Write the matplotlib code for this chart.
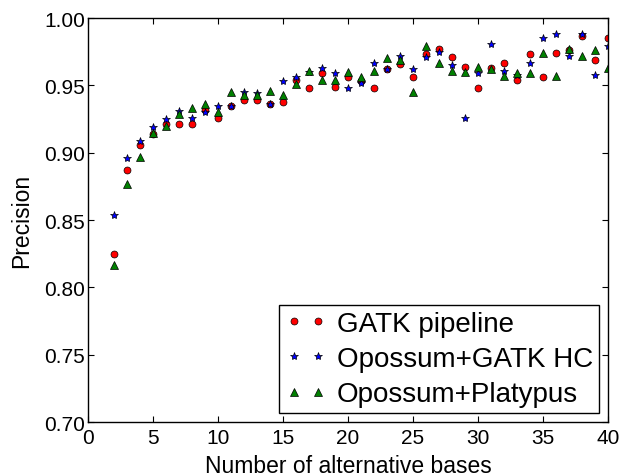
import matplotlib
matplotlib.use("Agg")
import matplotlib.pyplot as plt
import numpy as np

# number of alternative bases
n_alt = np.arange(2, 41)

gatk_pipeline = [0.825, 0.887, 0.906, 0.914, 0.921, 0.921, 0.921, 0.932, 0.926,
                 0.935, 0.939, 0.939, 0.936, 0.938, 0.954, 0.948, 0.959, 0.949,
                 0.956, 0.953, 0.948, 0.962, 0.966, 0.956, 0.973, 0.977, 0.971,
                 0.964, 0.948, 0.963, 0.967, 0.954, 0.973, 0.956, 0.974, 0.976,
                 0.987, 0.969, 0.985]
opossum_gatk_hc = [0.854, 0.896, 0.909, 0.919, 0.925, 0.931, 0.926, 0.930, 0.935,
                   0.935, 0.945, 0.944, 0.936, 0.953, 0.956, 0.960, 0.963, 0.959,
                   0.948, 0.952, 0.967, 0.962, 0.972, 0.962, 0.971, 0.975, 0.965,
                   0.926, 0.959, 0.981, 0.961, 0.958, 0.967, 0.985, 0.988, 0.972,
                   0.988, 0.958, 0.979]
opossum_platypus = [0.817, 0.877, 0.897, 0.915, 0.920, 0.929, 0.933, 0.936, 0.930,
                    0.945, 0.943, 0.943, 0.946, 0.943, 0.951, 0.961, 0.954, 0.954,
                    0.960, 0.956, 0.961, 0.970, 0.969, 0.945, 0.979, 0.967, 0.961,
                    0.960, 0.964, 0.962, 0.957, 0.959, 0.959, 0.974, 0.957, 0.977,
                    0.972, 0.976, 0.963]

plt.rcParams['font.family'] = ['Liberation Sans', 'DejaVu Sans']

fig = plt.figure(figsize=(6.24, 4.77), dpi=100)
ax = fig.add_axes([0.141, 0.113, 0.833, 0.847])

ax.plot(n_alt, gatk_pipeline, ls='none', marker='o', ms=5, color='r',
        mec='k', mew=0.5, label='GATK pipeline')
ax.plot(n_alt, opossum_gatk_hc, ls='none', marker='*', ms=6, color='b',
        mec='k', mew=0.5, label='Opossum+GATK HC')
ax.plot(n_alt, opossum_platypus, ls='none', marker='^', ms=5.5, color='g',
        mec='k', mew=0.5, label='Opossum+Platypus')

ax.set_xlim(0, 40)
ax.set_ylim(0.70, 1.00)
ax.set_xticks(np.arange(0, 41, 5))
ax.set_yticks(np.arange(0.70, 1.001, 0.05))
ax.set_yticklabels(['%.2f' % v for v in np.arange(0.70, 1.001, 0.05)])
ax.tick_params(direction='in', length=4, width=0.8, top=True, right=True,
               labelsize=15, pad=4)
ax.tick_params(axis='y', pad=2)
for s in ax.spines.values():
    s.set_linewidth(1.0)

ax.set_xlabel('Number of alternative bases', fontsize=16.5, labelpad=5)
ax.set_ylabel('Precision', fontsize=16.5, labelpad=8)

leg = ax.legend(loc='lower right', numpoints=2, fontsize=20, fancybox=False,
                framealpha=1, edgecolor='k', borderaxespad=0.31,
                handlelength=1.46, handletextpad=0.39, labelspacing=0.33,
                borderpad=0.22)
leg.get_frame().set_linewidth(1.0)

fig.savefig('out.png', dpi=100)
